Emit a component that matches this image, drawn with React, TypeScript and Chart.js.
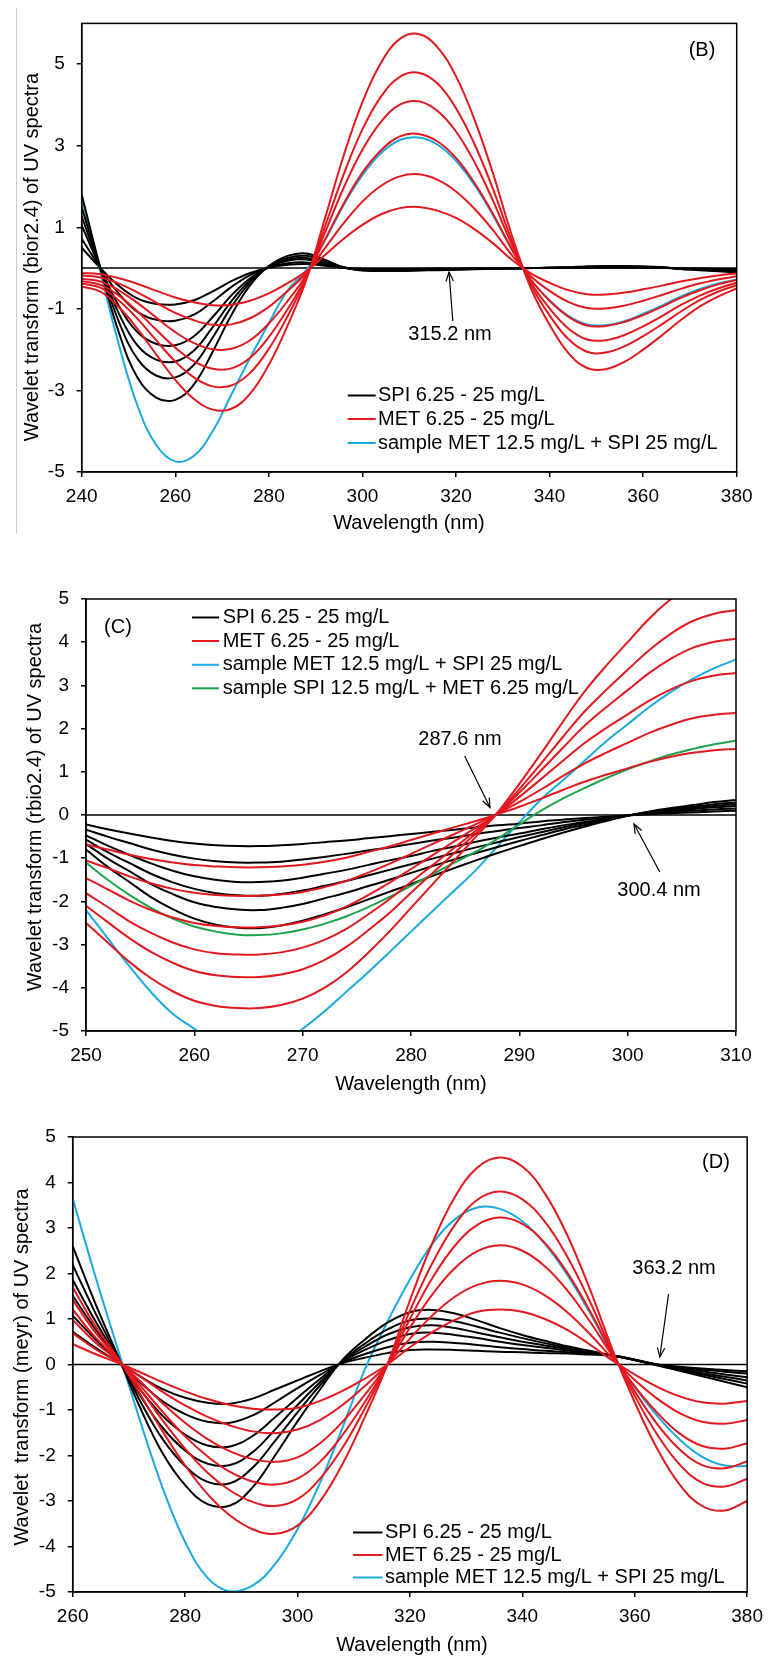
import React, { useEffect, useRef } from 'react';
import { Chart, registerables } from 'chart.js';

Chart.register(...registerables);

const FONT = "'Liberation Sans', Arial, Helvetica, sans-serif";
const BLACK = '#000000';
const RED = '#e3181e';
const CYAN = '#19a9df';
const GREEN = '#1ea24d';

// ---------------- Panel B (bior2.4) ----------------
const wlB = [240, 244, 248, 252, 256, 260, 264, 268, 272, 276, 280, 284, 288, 292, 296, 300, 304, 308, 312, 316, 320, 324, 328, 332, 336, 340, 344, 348, 352, 356, 360, 364, 368, 372, 376, 380];
const spiB1 = [0.5, 0, -0.44, -0.75, -0.88, -0.89, -0.79, -0.57, -0.32, -0.12, 0.01, 0.08, 0.1, 0.06, 0.01, -0.02, -0.02, -0.02, -0.02, -0.01, -0.01, -0.01, -0.01, 0, 0, 0, 0.01, 0.01, 0.01, 0.01, 0.01, 0.01, -0.01, -0.01, -0.02, -0.03];
const spiB2 = [0.72, 0, -0.64, -1.08, -1.27, -1.29, -1.14, -0.82, -0.46, -0.17, 0.02, 0.12, 0.14, 0.08, 0.01, -0.02, -0.03, -0.03, -0.02, -0.02, -0.02, -0.01, -0.01, 0, 0, 0, 0.01, 0.02, 0.02, 0.02, 0.02, 0.01, -0.01, -0.02, -0.03, -0.04];
const spiB3 = [1.05, 0, -0.94, -1.58, -1.86, -1.89, -1.67, -1.2, -0.67, -0.25, 0.03, 0.18, 0.21, 0.12, 0.01, -0.04, -0.04, -0.04, -0.04, -0.03, -0.02, -0.02, -0.01, -0.01, 0, 0.01, 0.01, 0.02, 0.03, 0.03, 0.02, 0.01, -0.01, -0.03, -0.05, -0.06];
const spiB4 = [1.27, 0, -1.13, -1.91, -2.25, -2.29, -2.02, -1.45, -0.81, -0.3, 0.04, 0.21, 0.25, 0.14, 0.01, -0.04, -0.05, -0.05, -0.04, -0.04, -0.03, -0.02, -0.01, -0.01, 0, 0.01, 0.01, 0.03, 0.04, 0.04, 0.03, 0.01, -0.01, -0.04, -0.06, -0.07];
const spiB5 = [1.49, 0, -1.33, -2.24, -2.64, -2.68, -2.37, -1.7, -0.95, -0.35, 0.04, 0.25, 0.3, 0.17, 0.02, -0.05, -0.06, -0.06, -0.05, -0.04, -0.03, -0.02, -0.02, -0.01, 0, 0.01, 0.02, 0.03, 0.04, 0.04, 0.03, 0.02, -0.02, -0.04, -0.07, -0.08];
const spiB6 = [1.8, 0, -1.6, -2.7, -3.18, -3.23, -2.85, -2.05, -1.15, -0.42, 0.05, 0.3, 0.36, 0.2, 0.02, -0.06, -0.07, -0.07, -0.06, -0.05, -0.04, -0.03, -0.02, -0.01, 0, 0.01, 0.02, 0.04, 0.05, 0.05, 0.04, 0.02, -0.02, -0.05, -0.08, -0.1];
const metB1 = [-0.12, -0.15, -0.25, -0.39, -0.56, -0.72, -0.84, -0.91, -0.9, -0.8, -0.62, -0.37, -0.08, 0.32, 0.72, 1.06, 1.32, 1.47, 1.5, 1.41, 1.23, 0.95, 0.6, 0.2, -0.13, -0.36, -0.54, -0.64, -0.65, -0.6, -0.52, -0.43, -0.33, -0.25, -0.18, -0.13];
const metB2 = [-0.18, -0.23, -0.38, -0.6, -0.85, -1.1, -1.28, -1.39, -1.38, -1.23, -0.95, -0.56, -0.12, 0.49, 1.1, 1.63, 2.02, 2.25, 2.3, 2.17, 1.88, 1.45, 0.92, 0.31, -0.2, -0.56, -0.83, -0.98, -0.99, -0.92, -0.8, -0.66, -0.51, -0.38, -0.28, -0.2];
const metB3 = [-0.26, -0.33, -0.55, -0.86, -1.22, -1.57, -1.84, -1.99, -1.98, -1.77, -1.36, -0.81, -0.17, 0.7, 1.58, 2.34, 2.89, 3.23, 3.29, 3.11, 2.7, 2.08, 1.31, 0.45, -0.28, -0.8, -1.19, -1.41, -1.42, -1.32, -1.15, -0.95, -0.73, -0.55, -0.4, -0.29];
const metB4 = [-0.32, -0.41, -0.68, -1.07, -1.52, -1.95, -2.29, -2.47, -2.46, -2.2, -1.69, -1.01, -0.21, 0.87, 1.97, 2.9, 3.59, 4.01, 4.09, 3.86, 3.35, 2.59, 1.63, 0.56, -0.35, -0.99, -1.48, -1.75, -1.77, -1.64, -1.43, -1.18, -0.91, -0.68, -0.5, -0.36];
const metB5 = [-0.38, -0.48, -0.8, -1.25, -1.78, -2.29, -2.68, -2.9, -2.88, -2.57, -1.98, -1.18, -0.24, 1.02, 2.3, 3.4, 4.21, 4.69, 4.79, 4.53, 3.92, 3.03, 1.91, 0.65, -0.41, -1.16, -1.74, -2.05, -2.07, -1.92, -1.67, -1.38, -1.07, -0.79, -0.58, -0.42];
const metB6 = [-0.45, -0.58, -0.96, -1.5, -2.13, -2.74, -3.21, -3.47, -3.45, -3.08, -2.37, -1.41, -0.29, 1.22, 2.76, 4.07, 5.04, 5.62, 5.74, 5.42, 4.7, 3.63, 2.29, 0.78, -0.49, -1.39, -2.08, -2.45, -2.48, -2.3, -2.0, -1.65, -1.28, -0.95, -0.7, -0.5];
const mixB = [1.75, -0.1, -1.9, -3.4, -4.35, -4.74, -4.6, -4.0, -3.1, -2.2, -1.35, -0.55, -0.05, 0.68, 1.55, 2.28, 2.82, 3.14, 3.2, 3.03, 2.63, 2.03, 1.28, 0.44, -0.28, -0.79, -1.17, -1.38, -1.4, -1.3, -1.12, -0.92, -0.7, -0.52, -0.38, -0.28];
const xTicksB = [240, 260, 280, 300, 320, 340, 360, 380];
const yTicksB = [-5, -3, -1, 1, 3, 5];

// ---------------- Panel C (rbio2.4) ----------------
const wlC = [250, 252, 254, 256, 258, 260, 262, 264, 266, 268, 270, 272, 274, 276, 278, 280, 282, 284, 286, 288, 290, 292, 294, 296, 298, 300, 302, 304, 306, 308, 310];
const spiC1 = [-0.22, -0.33, -0.43, -0.52, -0.6, -0.66, -0.7, -0.72, -0.72, -0.7, -0.67, -0.63, -0.59, -0.54, -0.49, -0.44, -0.39, -0.34, -0.29, -0.24, -0.2, -0.15, -0.11, -0.07, -0.04, -0.01, 0.02, 0.04, 0.06, 0.08, 0.1];
const spiC2 = [-0.34, -0.5, -0.65, -0.8, -0.92, -1.01, -1.07, -1.1, -1.1, -1.08, -1.03, -0.97, -0.9, -0.82, -0.75, -0.67, -0.59, -0.52, -0.44, -0.37, -0.3, -0.24, -0.17, -0.11, -0.06, -0.01, 0.03, 0.07, 0.1, 0.13, 0.15];
const spiC3 = [-0.47, -0.71, -0.92, -1.12, -1.29, -1.42, -1.5, -1.55, -1.55, -1.52, -1.45, -1.36, -1.27, -1.16, -1.05, -0.95, -0.83, -0.73, -0.62, -0.52, -0.43, -0.33, -0.24, -0.16, -0.08, -0.01, 0.05, 0.09, 0.14, 0.18, 0.21];
const spiC4 = [-0.57, -0.86, -1.11, -1.36, -1.56, -1.71, -1.81, -1.86, -1.87, -1.83, -1.75, -1.64, -1.53, -1.4, -1.27, -1.14, -1.01, -0.88, -0.75, -0.63, -0.51, -0.4, -0.29, -0.19, -0.1, -0.01, 0.06, 0.11, 0.16, 0.21, 0.25];
const spiC5 = [-0.67, -1.01, -1.3, -1.6, -1.83, -2.02, -2.13, -2.19, -2.2, -2.15, -2.06, -1.93, -1.8, -1.65, -1.5, -1.34, -1.18, -1.03, -0.88, -0.74, -0.6, -0.47, -0.34, -0.23, -0.12, -0.02, 0.07, 0.13, 0.19, 0.25, 0.29];
const spiC6 = [-0.8, -1.2, -1.55, -1.9, -2.18, -2.4, -2.54, -2.61, -2.62, -2.56, -2.45, -2.3, -2.14, -1.96, -1.78, -1.6, -1.41, -1.23, -1.05, -0.88, -0.72, -0.56, -0.41, -0.27, -0.14, -0.02, 0.08, 0.16, 0.23, 0.3, 0.35];
const metC1 = [-0.68, -0.8, -0.92, -1.02, -1.1, -1.16, -1.19, -1.21, -1.21, -1.19, -1.15, -1.08, -0.99, -0.86, -0.73, -0.58, -0.43, -0.28, -0.14, 0.02, 0.19, 0.38, 0.58, 0.77, 0.93, 1.08, 1.23, 1.35, 1.44, 1.5, 1.53];
const metC2 = [-1.05, -1.23, -1.42, -1.58, -1.71, -1.8, -1.85, -1.87, -1.87, -1.84, -1.78, -1.67, -1.53, -1.34, -1.13, -0.9, -0.67, -0.44, -0.21, 0.03, 0.3, 0.59, 0.9, 1.19, 1.44, 1.67, 1.9, 2.09, 2.24, 2.32, 2.36];
const metC3 = [-1.46, -1.72, -1.98, -2.2, -2.37, -2.5, -2.57, -2.6, -2.6, -2.56, -2.47, -2.33, -2.12, -1.86, -1.57, -1.25, -0.93, -0.61, -0.29, 0.03, 0.42, 0.83, 1.25, 1.66, 2.01, 2.33, 2.65, 2.91, 3.11, 3.23, 3.29];
const metC4 = [-1.81, -2.13, -2.46, -2.73, -2.95, -3.11, -3.2, -3.23, -3.23, -3.18, -3.07, -2.89, -2.64, -2.31, -1.95, -1.55, -1.16, -0.76, -0.36, 0.04, 0.52, 1.03, 1.55, 2.06, 2.49, 2.89, 3.29, 3.62, 3.87, 4.01, 4.08];
const metC5 = [-2.1, -2.48, -2.85, -3.17, -3.42, -3.61, -3.71, -3.75, -3.75, -3.69, -3.57, -3.36, -3.06, -2.68, -2.27, -1.8, -1.34, -0.88, -0.42, 0.05, 0.6, 1.19, 1.8, 2.39, 2.89, 3.36, 3.82, 4.2, 4.49, 4.66, 4.74];
const metC6 = [-2.5, -2.95, -3.4, -3.78, -4.08, -4.3, -4.42, -4.47, -4.47, -4.4, -4.25, -4.0, -3.65, -3.2, -2.7, -2.15, -1.6, -1.05, -0.5, 0.06, 0.72, 1.42, 2.15, 2.85, 3.45, 4.0, 4.55, 5.0, 5.35, 5.55, 5.65];
const mixC = [-2.2, -2.85, -3.5, -4.1, -4.6, -4.95, -5.3, -5.5, -5.5, -5.3, -4.95, -4.55, -4.1, -3.65, -3.18, -2.7, -2.22, -1.75, -1.27, -0.72, -0.17, 0.36, 0.8, 1.25, 1.7, 2.1, 2.5, 2.85, 3.15, 3.4, 3.6];
const mix2C = [-1.1, -1.5, -1.85, -2.15, -2.4, -2.58, -2.7, -2.77, -2.78, -2.74, -2.65, -2.52, -2.35, -2.14, -1.9, -1.64, -1.37, -1.1, -0.85, -0.55, -0.22, 0.1, 0.38, 0.62, 0.85, 1.06, 1.24, 1.4, 1.53, 1.64, 1.72];
const xTicksC = [250, 260, 270, 280, 290, 300, 310];
const yTicksC = [-5, -4, -3, -2, -1, 0, 1, 2, 3, 4, 5];

// ---------------- Panel D (meyr) ----------------
const wlD = [260, 264, 268, 272, 276, 280, 284, 288, 292, 296, 300, 304, 308, 312, 316, 320, 324, 328, 332, 336, 340, 344, 348, 352, 356, 360, 364, 368, 372, 376, 380];
const spiD1 = [0.72, 0.37, 0.06, -0.26, -0.54, -0.73, -0.84, -0.86, -0.75, -0.55, -0.35, -0.15, 0.03, 0.15, 0.25, 0.32, 0.33, 0.32, 0.3, 0.28, 0.27, 0.25, 0.24, 0.22, 0.2, 0.11, 0.0, -0.05, -0.09, -0.12, -0.15];
const spiD2 = [1.07, 0.56, 0.08, -0.39, -0.81, -1.09, -1.26, -1.28, -1.12, -0.83, -0.52, -0.23, 0.04, 0.23, 0.38, 0.48, 0.5, 0.47, 0.43, 0.38, 0.34, 0.3, 0.27, 0.23, 0.2, 0.1, 0.0, -0.06, -0.11, -0.16, -0.2];
const spiD3 = [1.51, 0.78, 0.12, -0.55, -1.13, -1.54, -1.78, -1.8, -1.57, -1.16, -0.73, -0.32, 0.06, 0.32, 0.53, 0.67, 0.7, 0.65, 0.58, 0.5, 0.43, 0.37, 0.31, 0.25, 0.2, 0.1, -0.01, -0.08, -0.15, -0.22, -0.28];
const spiD4 = [1.86, 0.96, 0.14, -0.68, -1.39, -1.89, -2.18, -2.21, -1.93, -1.43, -0.89, -0.39, 0.07, 0.39, 0.66, 0.82, 0.86, 0.8, 0.7, 0.6, 0.5, 0.42, 0.34, 0.27, 0.2, 0.1, -0.01, -0.1, -0.19, -0.27, -0.35];
const spiD5 = [2.19, 1.14, 0.17, -0.8, -1.64, -2.23, -2.58, -2.61, -2.27, -1.68, -1.05, -0.46, 0.08, 0.46, 0.77, 0.97, 1.01, 0.95, 0.83, 0.7, 0.58, 0.47, 0.37, 0.28, 0.2, 0.1, -0.01, -0.12, -0.22, -0.32, -0.42];
const spiD6 = [2.6, 1.35, 0.2, -0.95, -1.95, -2.65, -3.07, -3.1, -2.7, -2.0, -1.25, -0.55, 0.1, 0.55, 0.92, 1.15, 1.2, 1.12, 0.97, 0.8, 0.65, 0.52, 0.4, 0.3, 0.2, 0.1, -0.02, -0.14, -0.26, -0.38, -0.5];
const metD1 = [0.45, 0.23, 0.04, -0.17, -0.39, -0.59, -0.76, -0.89, -0.97, -0.99, -0.95, -0.8, -0.58, -0.31, 0.0, 0.38, 0.71, 0.98, 1.16, 1.21, 1.16, 1.0, 0.76, 0.44, 0.09, -0.22, -0.49, -0.7, -0.83, -0.86, -0.8];
const metD2 = [0.69, 0.34, 0.06, -0.26, -0.6, -0.9, -1.15, -1.34, -1.47, -1.51, -1.43, -1.22, -0.89, -0.47, 0.0, 0.57, 1.08, 1.49, 1.75, 1.84, 1.76, 1.52, 1.15, 0.67, 0.14, -0.34, -0.75, -1.07, -1.26, -1.3, -1.22];
const metD3 = [0.98, 0.49, 0.09, -0.37, -0.85, -1.28, -1.64, -1.91, -2.08, -2.14, -2.04, -1.73, -1.26, -0.66, 0.0, 0.81, 1.54, 2.12, 2.49, 2.62, 2.5, 2.16, 1.63, 0.95, 0.2, -0.48, -1.06, -1.52, -1.79, -1.85, -1.73];
const metD4 = [1.21, 0.6, 0.11, -0.46, -1.04, -1.58, -2.02, -2.36, -2.57, -2.64, -2.51, -2.14, -1.55, -0.82, 0.0, 1.0, 1.9, 2.61, 3.07, 3.23, 3.09, 2.67, 2.02, 1.18, 0.24, -0.59, -1.31, -1.87, -2.21, -2.28, -2.13];
const metD5 = [1.42, 0.71, 0.13, -0.54, -1.23, -1.85, -2.38, -2.77, -3.02, -3.11, -2.96, -2.51, -1.83, -0.96, 0.0, 1.18, 2.23, 3.07, 3.62, 3.8, 3.63, 3.14, 2.37, 1.39, 0.28, -0.69, -1.54, -2.2, -2.6, -2.68, -2.51];
const metD6 = [1.7, 0.85, 0.15, -0.65, -1.47, -2.22, -2.85, -3.32, -3.62, -3.72, -3.54, -3.01, -2.19, -1.15, 0.0, 1.41, 2.67, 3.68, 4.33, 4.55, 4.35, 3.76, 2.84, 1.66, 0.34, -0.83, -1.85, -2.64, -3.11, -3.21, -3.0];
const mixD = [3.65, 1.95, 0.35, -1.24, -2.71, -3.9, -4.69, -4.99, -4.86, -4.39, -3.62, -2.6, -1.39, -0.1, 0.94, 1.87, 2.65, 3.19, 3.45, 3.42, 3.15, 2.65, 1.97, 1.14, 0.23, -0.5, -1.13, -1.65, -2.03, -2.22, -2.23];
const xTicksD = [260, 280, 300, 320, 340, 360, 380];
const yTicksD = [-5, -4, -3, -2, -1, 0, 1, 2, 3, 4, 5];

const LEG_SPI = 'SPI 6.25 - 25 mg/L';
const LEG_MET = 'MET 6.25 - 25 mg/L';
const LEG_MIX = 'sample MET 12.5 mg/L + SPI 25 mg/L';
const LEG_MIX2 = 'sample SPI 12.5 mg/L + MET 6.25 mg/L';

type Series = { values: number[]; color: string; order: number };
type Note = { text: string; tx: number; ty: number; from: [number, number]; to: [number, number] };
type Panel = {
  key: string;
  top: number;
  height: number;
  left: number;
  right: number;
  plotTop: number;
  plotBottom: number;
  wl: number[];
  series: Series[];
  xMin: number;
  xMax: number;
  xTicks: number[];
  yMin: number;
  yMax: number;
  yTicks: number[];
  xTitle: string;
  xTitlePos: [number, number];
  yTitle: string;
  yTitleBaseX: number;
  yTitleCenterY: number;
  tag: { text: string; x: number; y: number };
  legend: { x1: number; x2: number; tx: number; rows: number[]; items: { label: string; color: string }[] };
  notes: Note[];
};

const grp = (arrs: number[][], color: string, order: number): Series[] => arrs.map((values) => ({ values, color, order }));

const panels: Panel[] = [
  {
    key: 'B',
    top: 0,
    height: 560,
    left: 81.7,
    right: 736.7,
    plotTop: 15,
    plotBottom: 472,
    wl: wlB,
    series: [
      ...grp([mixB], CYAN, 3),
      ...grp([spiB1, spiB2, spiB3, spiB4, spiB5, spiB6], BLACK, 2),
      ...grp([metB1, metB2, metB3, metB4, metB5, metB6], RED, 1),
    ],
    xMin: 240,
    xMax: 380,
    xTicks: xTicksB,
    yMin: -5,
    yMax: 6,
    yTicks: yTicksB,
    xTitle: 'Wavelength (nm)',
    xTitlePos: [409, 523],
    yTitle: 'Wavelet transform (bior2.4) of UV spectra',
    yTitleBaseX: 38,
    yTitleCenterY: 257,
    tag: { text: '(B)', x: 702, y: 50 },
    legend: {
      x1: 347.7,
      x2: 375.7,
      tx: 378,
      rows: [395.5, 419, 443],
      items: [
        { label: LEG_SPI, color: BLACK },
        { label: LEG_MET, color: RED },
        { label: LEG_MIX, color: CYAN },
      ],
    },
    notes: [{ text: '315.2 nm', tx: 450, ty: 334, from: [452.8, 321], to: [449, 272] }],
  },
  {
    key: 'C',
    top: 560,
    height: 540,
    left: 86,
    right: 736,
    plotTop: 599,
    plotBottom: 1031,
    wl: wlC,
    series: [
      ...grp([mixC], CYAN, 4),
      ...grp([spiC1, spiC2, spiC3, spiC4, spiC5, spiC6], BLACK, 3),
      ...grp([mix2C], GREEN, 2),
      ...grp([metC1, metC2, metC3, metC4, metC5, metC6], RED, 1),
    ],
    xMin: 250,
    xMax: 310,
    xTicks: xTicksC,
    yMin: -5,
    yMax: 5,
    yTicks: yTicksC,
    xTitle: 'Wavelength (nm)',
    xTitlePos: [411, 1084],
    yTitle: 'Wavelet transform (rbio2.4) of UV spectra',
    yTitleBaseX: 41,
    yTitleCenterY: 807,
    tag: { text: '(C)', x: 118, y: 627 },
    legend: {
      x1: 192,
      x2: 219,
      tx: 222.7,
      rows: [617.5, 641, 664.8, 688.3],
      items: [
        { label: LEG_SPI, color: BLACK },
        { label: LEG_MET, color: RED },
        { label: LEG_MIX, color: CYAN },
        { label: LEG_MIX2, color: GREEN },
      ],
    },
    notes: [
      { text: '287.6 nm', tx: 460, ty: 739, from: [464.6, 756], to: [490, 807.5] },
      { text: '300.4 nm', tx: 659, ty: 890, from: [659.8, 872], to: [634, 824] },
    ],
  },
  {
    key: 'D',
    top: 1100,
    height: 559,
    left: 72.7,
    right: 751.7,
    plotTop: 1137,
    plotBottom: 1592,
    wl: wlD,
    series: [
      ...grp([mixD], CYAN, 3),
      ...grp([spiD1, spiD2, spiD3, spiD4, spiD5, spiD6], BLACK, 2),
      ...grp([metD1, metD2, metD3, metD4, metD5, metD6], RED, 1),
    ],
    xMin: 260,
    xMax: 380,
    xTicks: xTicksD,
    yMin: -5,
    yMax: 5,
    yTicks: yTicksD,
    xTitle: 'Wavelength (nm)',
    xTitlePos: [412, 1645],
    yTitle: 'Wavelet  transform (meyr) of UV spectra',
    yTitleBaseX: 28.3,
    yTitleCenterY: 1367,
    tag: { text: '(D)', x: 716, y: 1162 },
    legend: {
      x1: 353,
      x2: 382.5,
      tx: 385,
      rows: [1532.5, 1555, 1577.5],
      items: [
        { label: LEG_SPI, color: BLACK },
        { label: LEG_MET, color: RED },
        { label: LEG_MIX, color: CYAN },
      ],
    },
    notes: [{ text: '363.2 nm', tx: 674, ty: 1268, from: [668.6, 1294], to: [659.8, 1357] }],
  },
];

function decorations(p: Panel) {
  const dy = p.top;
  return {
    id: 'decor' + p.key,
    beforeDatasetsDraw(chart: any) {
      const { ctx, chartArea: a, scales } = chart;
      const y0 = scales.y.getPixelForValue(0);
      ctx.save();
      ctx.strokeStyle = '#000';
      ctx.lineWidth = 1.5;
      ctx.beginPath();
      ctx.moveTo(a.left, y0);
      ctx.lineTo(a.right, y0);
      ctx.stroke();
      ctx.restore();
    },
    afterDraw(chart: any) {
      const { ctx, chartArea: a } = chart;
      ctx.save();
      ctx.strokeStyle = '#000';
      ctx.lineWidth = 1.5;
      ctx.strokeRect(a.left, a.top, a.right - a.left, a.bottom - a.top);

      ctx.fillStyle = '#000';
      ctx.font = `20px ${FONT}`;
      ctx.textAlign = 'center';
      ctx.textBaseline = 'middle';
      ctx.fillText(p.xTitle, p.xTitlePos[0], p.xTitlePos[1] - dy);

      ctx.save();
      ctx.translate(p.yTitleBaseX, p.yTitleCenterY - dy);
      ctx.rotate(-Math.PI / 2);
      ctx.textBaseline = 'alphabetic';
      ctx.fillText(p.yTitle, 0, 0);
      ctx.restore();

      ctx.fillText(p.tag.text, p.tag.x, p.tag.y - dy);

      ctx.textAlign = 'left';
      p.legend.items.forEach((it, i) => {
        const y = p.legend.rows[i] - dy;
        ctx.strokeStyle = it.color;
        ctx.lineWidth = 2;
        ctx.beginPath();
        ctx.moveTo(p.legend.x1, y);
        ctx.lineTo(p.legend.x2, y);
        ctx.stroke();
        ctx.fillStyle = '#000';
        ctx.fillText(it.label, p.legend.tx, y);
      });

      ctx.textAlign = 'center';
      p.notes.forEach((n) => {
        ctx.fillStyle = '#000';
        ctx.fillText(n.text, n.tx, n.ty - dy);
        const x1 = n.from[0];
        const y1 = n.from[1] - dy;
        const x2 = n.to[0];
        const y2 = n.to[1] - dy;
        ctx.strokeStyle = '#000';
        ctx.lineWidth = 1.2;
        ctx.beginPath();
        ctx.moveTo(x1, y1);
        ctx.lineTo(x2, y2);
        ctx.stroke();
        const ang = Math.atan2(y2 - y1, x2 - x1);
        const L = 10;
        const sp = 0.38;
        ctx.beginPath();
        ctx.moveTo(x2 - L * Math.cos(ang - sp), y2 - L * Math.sin(ang - sp));
        ctx.lineTo(x2, y2);
        ctx.lineTo(x2 - L * Math.cos(ang + sp), y2 - L * Math.sin(ang + sp));
        ctx.stroke();
      });
      ctx.restore();
    },
  };
}

function PanelChart({ p }: { p: Panel }) {
  const ref = useRef<HTMLCanvasElement | null>(null);
  useEffect(() => {
    const canvas = ref.current;
    if (!canvas) return;
    const datasets = p.series.map((s) => ({
      data: p.wl.map((x, i) => ({ x, y: s.values[i] })),
      borderColor: s.color,
      backgroundColor: s.color,
      borderWidth: 2,
      pointRadius: 0,
      fill: false,
      tension: 0.4,
      order: s.order,
    }));
    const tickFont = { family: FONT, size: 19 };
    const xHeight = p.height - (p.plotBottom - p.top);
    const chart = new Chart(canvas, {
      type: 'line',
      data: { datasets },
      options: {
        animation: false,
        responsive: false,
        maintainAspectRatio: false,
        devicePixelRatio: 1,
        layout: { padding: { top: p.plotTop - p.top, right: 771 - p.right, left: 0, bottom: 0 } },
        plugins: { legend: { display: false }, tooltip: { enabled: false } },
        scales: {
          x: {
            type: 'linear',
            min: p.xMin,
            max: p.xMax,
            afterFit: (s: any) => {
              s.height = xHeight;
            },
            afterBuildTicks: (s: any) => {
              s.ticks = p.xTicks.map((v) => ({ value: v }));
            },
            ticks: { color: '#000', font: tickFont, padding: 8, maxRotation: 0, autoSkip: false },
            grid: { drawOnChartArea: false, drawTicks: true, tickLength: 5, color: '#000', lineWidth: 1.5 },
            border: { display: true, color: '#000', width: 1.5 },
          },
          y: {
            type: 'linear',
            min: p.yMin,
            max: p.yMax,
            afterFit: (s: any) => {
              s.width = p.left;
            },
            afterBuildTicks: (s: any) => {
              s.ticks = p.yTicks.map((v) => ({ value: v }));
            },
            ticks: { color: '#000', font: tickFont, padding: 12, autoSkip: false },
            grid: { drawOnChartArea: false, drawTicks: true, tickLength: 5, color: '#000', lineWidth: 1.5 },
            border: { display: true, color: '#000', width: 1.5 },
          },
        },
      } as any,
      plugins: [decorations(p)],
    });
    return () => chart.destroy();
  }, [p]);
  return (
    <canvas
      ref={ref}
      width={771}
      height={p.height}
      style={{ position: 'absolute', left: 0, top: p.top, width: 771, height: p.height, display: 'block' }}
    />
  );
}

export default function App() {
  return (
    <div style={{ position: 'absolute', left: 0, top: 0, width: 771, height: 1659, background: '#fff', overflow: 'hidden' }}>
      {panels.map((p) => (
        <PanelChart key={p.key} p={p} />
      ))}
      <div style={{ position: 'absolute', left: 16, top: 8, width: 1, height: 526, background: '#cccccc' }} />
    </div>
  );
}
